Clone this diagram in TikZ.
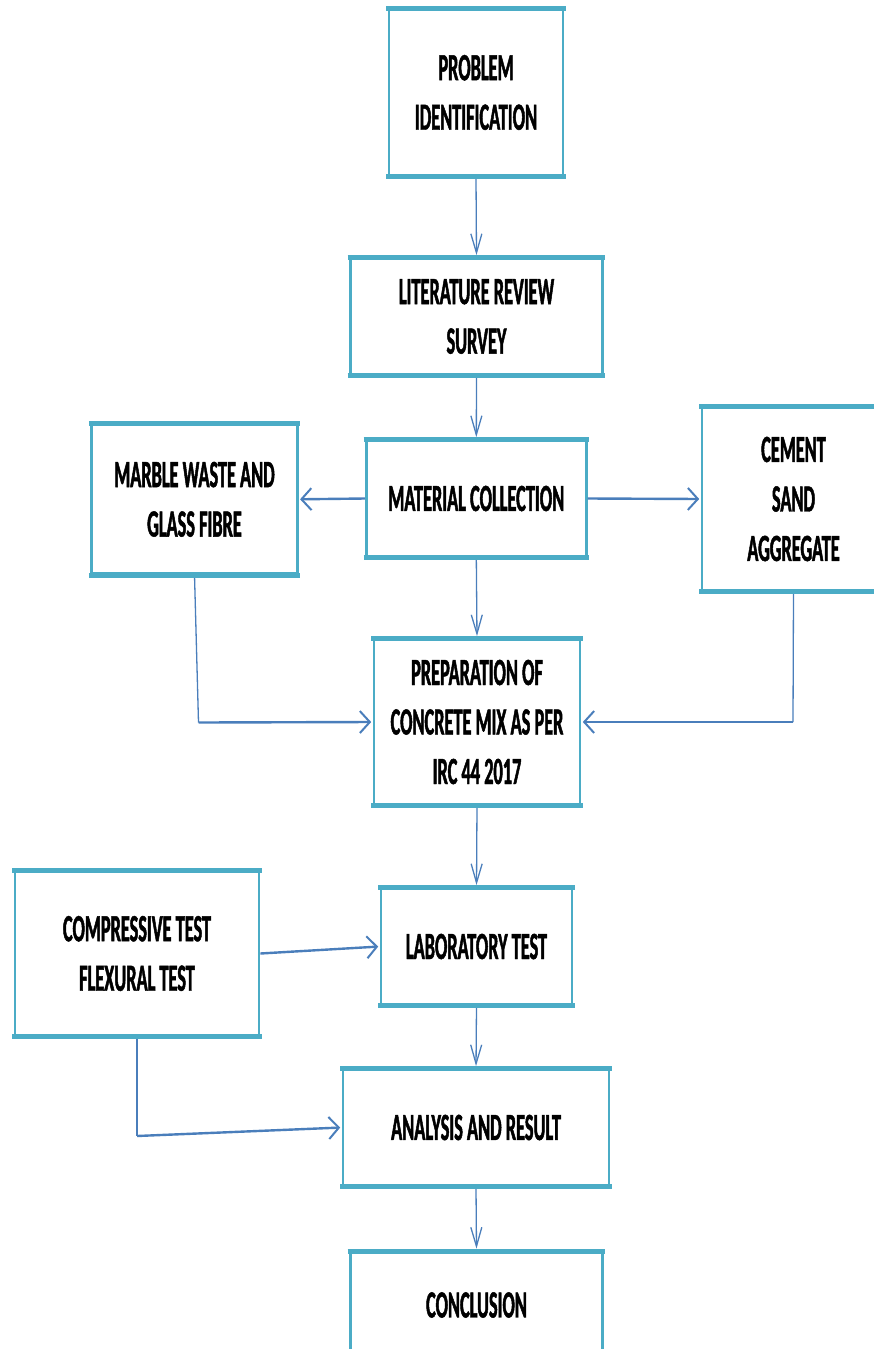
\documentclass[tikz,border=0pt]{standalone}
\usepackage{fontspec}
\newfontfamily\boxfont[FakeStretch=0.475,FakeBold=1.2]{Carlito}
\usetikzlibrary{arrows.meta}
\definecolor{boxc}{HTML}{4BACC6}
\definecolor{arrc}{HTML}{4A7EBB}
\begin{document}
\begin{tikzpicture}[x=1pt,y=-1pt,
  box/.style={draw=boxc, line width=2.8pt, fill=white, align=center, inner sep=0pt,
    font=\boxfont\bfseries\fontsize{38.5}{49.5}\selectfont},
  vline/.style={draw=arrc, line width=1.3pt},
  hline/.style={draw=arrc, line width=2.4pt},
  vtip/.style={-{Straight Barb[length=19pt,width=11pt,line width=1.3pt]}, shorten >=2.5pt},
  htip/.style={-{Straight Barb[length=10pt,width=22pt,line width=2pt]}, shorten >=1.4pt},
  bar/.style={draw=boxc, line width=5pt}]
\useasboundingbox (0,0) rectangle (874,1349);
\clip (0,0) rectangle (874,1349);
% nodes
\node[box, minimum width=174pt, minimum height=165pt] (a) at (476,92.5) {PROBLEM\\IDENTIFICATION};
\node[box, minimum width=252pt, minimum height=115pt] (b) at (476.5,316.5) {LITERATURE REVIEW\\SURVEY};
\node[box, minimum width=220pt, minimum height=115pt] (c) at (476.3,498.5) {MATERIAL COLLECTION};
\node[box, minimum width=205.6pt, minimum height=148.7pt] (d) at (194.5,499.3) {MARBLE WASTE AND\\GLASS FIBRE};
\node[box, minimum width=183pt, minimum height=182pt] (e) at (793.5,499) {CEMENT\\SAND\\AGGREGATE};
\node[box, minimum width=206pt, minimum height=164pt] (f) at (477,722) {PREPARATION OF\\CONCRETE MIX AS PER\\IRC 44 2017};
\node[box, minimum width=244pt, minimum height=163pt] (g) at (137,953.5) {COMPRESSIVE TEST\\FLEXURAL TEST};
\node[box, minimum width=191pt, minimum height=115pt] (h) at (476.5,946.5) {LABORATORY TEST};
\node[box, minimum width=266pt, minimum height=115pt] (i) at (476,1127.5) {ANALYSIS AND RESULT};
\node[box, minimum width=252pt, minimum height=105pt] (j) at (476.5,1305) {CONCLUSION};
% bend points
\coordinate (dk) at (198.5,722.5);
\coordinate (ek) at (793,722);
\coordinate (gk) at (137,1136);
% connectors
\draw[vline,vtip] (a.south) -- (b.north);
\draw[vline,vtip] (b.south) -- (c.north);
\draw[hline,htip] (c.west) -- (d.east);
\draw[hline,htip] (c.east) -- (e.west);
\draw[vline,vtip] (c.south) -- (f.north);
\draw[vline] (d.south) -- (dk);
\draw[hline,htip] (dk) -- (f.west);
\draw[vline] (e.south) -- (ek);
\draw[hline,htip] (ek) -- (f.east);
\draw[vline,vtip] (f.south) -- (h.north);
\draw[hline,htip] (g.east) -- (h.west);
\draw[vline] (g.south) -- (gk);
\draw[hline,htip] (gk) -- (i.west);
\draw[vline,vtip] (h.south) -- (i.north);
\draw[vline,vtip] (i.south) -- (j.north);
% thick top and bottom edges
\foreach \n in {a,b,c,d,e,f,g,h,i,j}
  \draw[bar] ([xshift=-1.4pt]\n.north west) -- ([xshift=1.4pt]\n.north east)
             ([xshift=-1.4pt]\n.south west) -- ([xshift=1.4pt]\n.south east);
\end{tikzpicture}
\end{document}
